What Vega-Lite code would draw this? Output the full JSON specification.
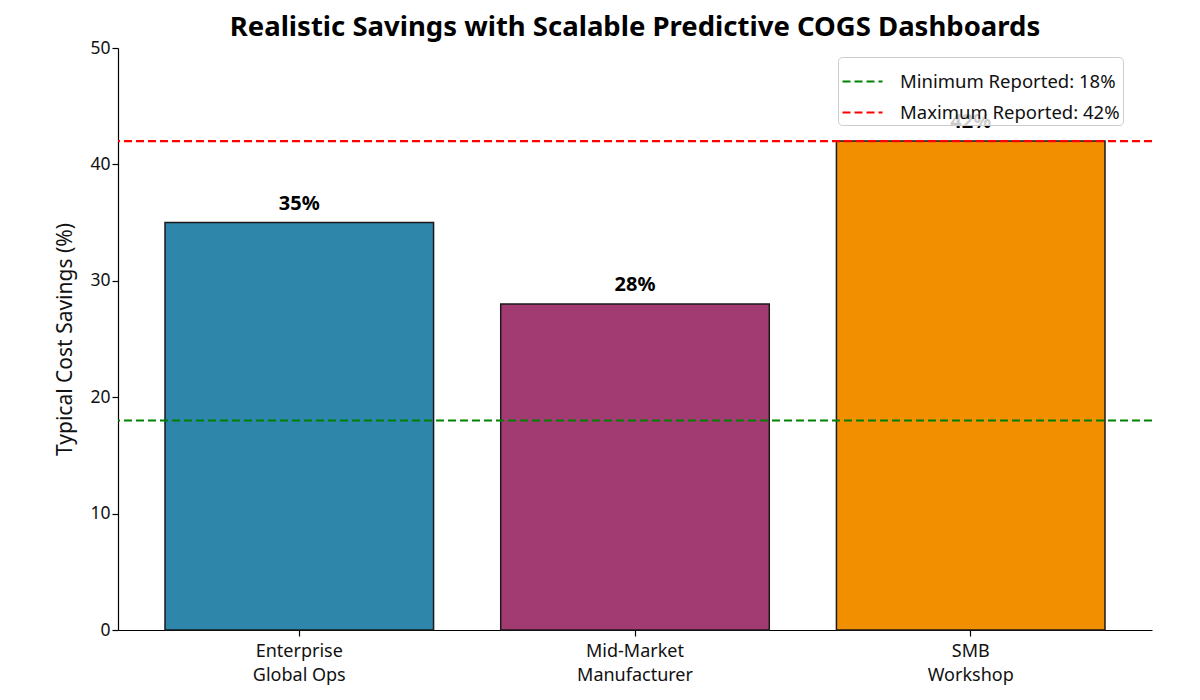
{
  "$schema": "https://vega.github.io/schema/vega-lite/v6.json",
  "autosize": "none",
  "width": 1034,
  "height": 582,
  "padding": {"left": 118, "top": 48, "right": 48, "bottom": 70},
  "background": "white",
  "title": {
    "text": "Realistic Savings with Scalable Predictive COGS Dashboards",
    "fontSize": 27.5,
    "fontWeight": "bold",
    "font": "Noto Sans",
    "color": "black",
    "anchor": "middle",
    "offset": -2
  },
  "datasets": {
    "bars": [
      {"segment": "Enterprise\nGlobal Ops", "savings": 35, "lbl": "35%"},
      {"segment": "Mid-Market\nManufacturer", "savings": 28, "lbl": "28%"},
      {"segment": "SMB\nWorkshop", "savings": 42, "lbl": "42%"}
    ],
    "refs": [
      {"label": "Minimum Reported: 18%", "value": 18},
      {"label": "Maximum Reported: 42%", "value": 42}
    ]
  },
  "layer": [
    {
      "data": {"name": "bars"},
      "mark": {"type": "bar", "stroke": "#1a1a1a", "strokeWidth": 1.5},
      "encoding": {
        "x": {
          "field": "segment",
          "type": "nominal",
          "sort": null,
          "scale": {"paddingInner": 0.2, "paddingOuter": 0.14},
          "axis": {
            "title": null,
            "labelAngle": 0,
            "labelExpr": "split(datum.label, '\\n')",
            "labelFontSize": 18,
            "labelLineHeight": 24,
            "labelPadding": 6
          }
        },
        "y": {
          "field": "savings",
          "type": "quantitative",
          "scale": {"domain": [0, 50]},
          "axis": {
            "title": "Typical Cost Savings (%)",
            "values": [0, 10, 20, 30, 40, 50],
            "titleFontSize": 21,
            "titleFontWeight": "normal",
            "titlePadding": 14,
            "labelFontSize": 17.5
          }
        },
        "fill": {
          "field": "segment",
          "type": "nominal",
          "sort": null,
          "scale": {"range": ["#2E86AB", "#A23B72", "#F18F01"]},
          "legend": null
        }
      }
    },
    {
      "data": {"name": "bars"},
      "mark": {"type": "text", "dy": -19, "fontSize": 20, "fontWeight": "bold", "font": "Noto Sans", "color": "black"},
      "encoding": {
        "x": {"field": "segment", "type": "nominal", "sort": null},
        "y": {"field": "savings", "type": "quantitative"},
        "text": {"field": "lbl", "type": "nominal"}
      }
    },
    {
      "data": {"name": "refs"},
      "mark": {"type": "rule", "strokeWidth": 2.2, "strokeDash": [8, 4]},
      "encoding": {
        "y": {"field": "value", "type": "quantitative"},
        "stroke": {
          "field": "label",
          "type": "nominal",
          "sort": null,
          "scale": {"domain": ["Minimum Reported: 18%", "Maximum Reported: 42%"], "range": ["green", "red"]},
          "legend": {
            "title": null,
            "orient": "none",
            "legendX": 720,
            "legendY": 9,
            "symbolType": "stroke",
            "symbolSize": 1600,
            "symbolStrokeWidth": 2.2,
            "symbolDash": [8, 4],
            "labelFontSize": 18.5,
            "labelOffset": 16,
            "rowPadding": 0,
            "padding": 3,
            "fillColor": "rgba(255,255,255,0.8)",
            "strokeColor": "#cccccc",
            "cornerRadius": 4,
            "labelLimit": 400
          }
        }
      }
    }
  ],
  "config": {
    "font": "Noto Sans",
    "view": {"stroke": null},
    "axis": {
      "grid": false,
      "domainColor": "black",
      "domainWidth": 1.2,
      "tickColor": "black",
      "tickWidth": 1.2,
      "tickSize": 6,
      "labelColor": "#111",
      "titleColor": "#111",
      "labelFont": "Noto Sans",
      "titleFont": "Noto Sans"
    },
    "legend": {"labelFont": "Noto Sans", "labelColor": "#111"}
  }
}
